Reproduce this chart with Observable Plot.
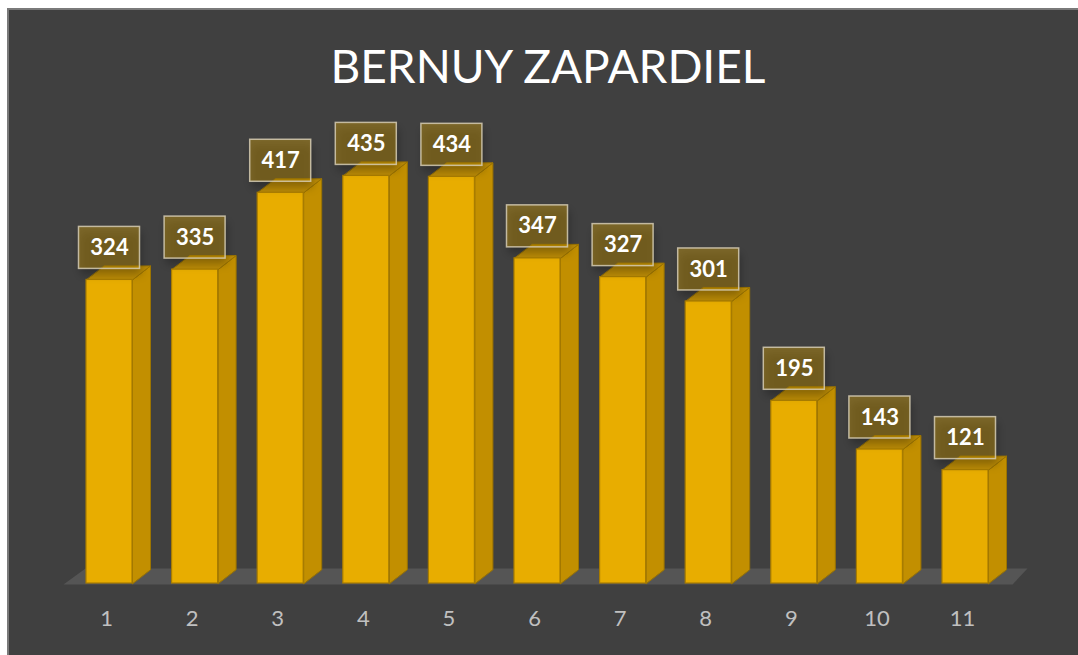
<!DOCTYPE html>
<html><head><meta charset="utf-8">
<script src="https://cdn.jsdelivr.net/npm/d3@7"></script>
<script src="https://cdn.jsdelivr.net/npm/@observablehq/plot@0.6"></script>
<style>
html,body{margin:0;padding:0;background:#fff;width:1078px;height:655px;overflow:hidden;}
#panel{position:absolute;left:7px;top:8px;width:1071px;height:647px;background:#404040;border-left:2px solid #7a7a7a;border-top:2px solid #7a7a7a;box-sizing:border-box;}
#title{position:absolute;left:9px;top:43px;width:1078px;text-align:center;font-family:Lato,sans-serif;font-size:46px;line-height:1;color:#fff;}
#chart{position:absolute;left:0;top:0;}
</style></head>
<body>
<div id="panel"></div>
<div id="title">BERNUY ZAPARDIEL</div>
<div id="chart"></div>
<script>
const title = "BERNUY ZAPARDIEL";
const categories = [1, 2, 3, 4, 5, 6, 7, 8, 9, 10, 11];
const values = [324, 335, 417, 435, 434, 347, 327, 301, 195, 143, 121];

const data = categories.map((c, i) => ({cat: c, value: values[i]}));

// 3D geometry in data units (x: category units, y: value units)
const pxPerUnitY = 0.937, pxPerCat = 85.6;
const hw = 23 / pxPerCat;          // half front width
const ddx = 18 / pxPerCat;         // depth offset x
const ddy = 14 / pxPerUnitY;       // depth offset y
const boxHalf = 30.5 / pxPerCat;
const boxGap = 11 / pxPerUnitY;
const boxH = 42 / pxPerUnitY;

const sides = data.flatMap(d => [
  {id: d.cat, x: d.cat + hw, y: 0},
  {id: d.cat, x: d.cat + hw, y: d.value},
  {id: d.cat, x: d.cat + hw + ddx, y: d.value + ddy},
  {id: d.cat, x: d.cat + hw + ddx, y: ddy}
]);
const tops = data.flatMap(d => [
  {id: d.cat, x: d.cat - hw, y: d.value},
  {id: d.cat, x: d.cat + hw, y: d.value},
  {id: d.cat, x: d.cat + hw + ddx, y: d.value + ddy},
  {id: d.cat, x: d.cat - hw + ddx, y: d.value + ddy}
]);
const first = categories[0], last = categories[categories.length - 1];
const floor = [
  {x: first - 46 / pxPerCat, y: -1 / pxPerUnitY},
  {x: last + 47 / pxPerCat, y: -1 / pxPerUnitY},
  {x: last + 62 / pxPerCat, y: 15 / pxPerUnitY},
  {x: first - 24 / pxPerCat, y: 15 / pxPerUnitY}
];

const chart = Plot.plot({
  width: 1078,
  height: 655,
  marginLeft: 66.2,
  marginRight: 70.2,
  marginTop: 583 - 500 * pxPerUnitY,
  marginBottom: 72,
  style: {background: "transparent", fontFamily: "Lato, sans-serif", fontSize: "22px", color: "#c0c0c0"},
  x: {type: "linear", domain: [0.5, 11.5], axis: null},
  y: {domain: [0, 500], axis: null},
  marks: [
    Plot.line(floor, {x: "x", y: "y", fill: "#555555", stroke: "none", curve: "linear-closed"}),
    Plot.line(sides, {x: "x", y: "y", z: "id", fill: "#c28f00", stroke: "#9c7400", strokeWidth: 1, curve: "linear-closed"}),
    Plot.line(tops, {x: "x", y: "y", z: "id", fill: "#bb8b06", stroke: "#9c7400", strokeWidth: 1, curve: "linear-closed"}),
    Plot.rect(data, {x1: d => d.cat - hw, x2: d => d.cat + hw, y1: 0, y2: "value", fill: "#e8ad00", stroke: "#a87c00", strokeWidth: 1.2}),
    // label shadow
    Plot.rect(data, {x1: d => d.cat - boxHalf, x2: d => d.cat + boxHalf, y1: d => d.value + boxGap, y2: d => d.value + boxGap + boxH,
      dx: 2, dy: 6, fill: "#000000", fillOpacity: 0.28}),
    Plot.rect(data, {x1: d => d.cat - boxHalf, x2: d => d.cat + boxHalf, y1: d => d.value + boxGap, y2: d => d.value + boxGap + boxH,
      fill: "#f0b400", fillOpacity: 0.34, stroke: "#d6cdb4", strokeOpacity: 0.85, strokeWidth: 1.5}),
    Plot.text(data, {x: "cat", y: d => d.value + boxGap + boxH / 2, text: d => String(d.value), fill: "#ffffff", fontWeight: "bold", fontSize: 22}),
    Plot.axisX({ticks: categories, tickSize: 0, tickPadding: 27, dx: -3, tickFormat: d => String(d), fill: "#c0c0c0", fontSize: 22})
  ]
});
// blur the label shadows
const svg = d3.select(chart);
const defs = svg.insert("defs", ":first-child");
defs.append("filter").attr("id", "lblShadow").attr("x", "-50%").attr("y", "-50%").attr("width", "200%").attr("height", "200%")
  .append("feGaussianBlur").attr("stdDeviation", 4);
const rectGroups = chart.querySelectorAll("g[aria-label='rect']");
if (rectGroups.length >= 2) rectGroups[1].setAttribute("filter", "url(#lblShadow)");
document.getElementById("chart").appendChild(chart);
</script>
</body></html>
